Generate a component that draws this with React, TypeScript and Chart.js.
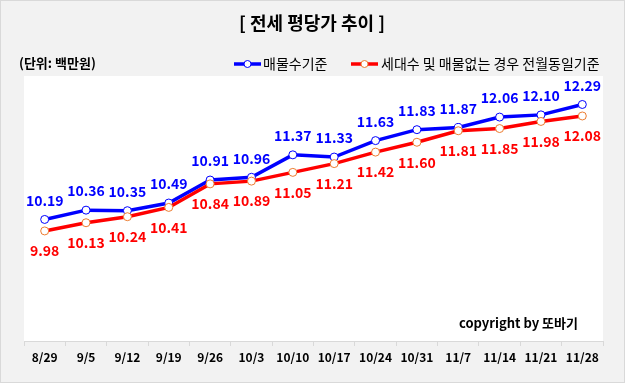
import React, { useEffect, useRef } from "react";
import { Chart, registerables } from "chart.js";

Chart.register(...registerables);

const categories = ["8/29", "9/5", "9/12", "9/19", "9/26", "10/3", "10/10", "10/17", "10/24", "10/31", "11/7", "11/14", "11/21", "11/28"];
const listingBased = [10.19, 10.36, 10.35, 10.49, 10.91, 10.96, 11.37, 11.33, 11.63, 11.83, 11.87, 12.06, 12.10, 12.29];
const sameAsPrevMonth = [9.98, 10.13, 10.24, 10.41, 10.84, 10.89, 11.05, 11.21, 11.42, 11.60, 11.81, 11.85, 11.98, 12.08];
const seriesNames = ["매물수기준", "세대수 및 매물없는 경우 전월동일기준"];
const titleText = "[ 전세 평당가 추이 ]";
const unitText = "(단위: 백만원)";
const copyrightText = "copyright by 또바기";

const FONT = '"Noto Sans CJK KR", "Noto Sans", sans-serif';

const decorPlugin = {
  id: "decor",
  beforeDraw(chart: any) {
    const { ctx, width, height, chartArea } = chart;
    ctx.save();
    ctx.fillStyle = "#f2f2f2";
    ctx.fillRect(0, 0, width, height);
    ctx.strokeStyle = "#d9d9d9";
    ctx.lineWidth = 1;
    ctx.strokeRect(0.5, 0.5, width - 1, height - 1);
    ctx.fillStyle = "#ffffff";
    ctx.fillRect(chartArea.left, chartArea.top, chartArea.right - chartArea.left, chartArea.bottom - chartArea.top + 1);
    ctx.restore();
  },
  afterDraw(chart: any) {
    const { ctx } = chart;
    ctx.save();
    ctx.fillStyle = "#000";
    ctx.textBaseline = "middle";
    ctx.textAlign = "center";
    ctx.font = `bold 18px ${FONT}`;
    ctx.fillText(titleText, 312, 23);
    ctx.textAlign = "left";
    ctx.font = `bold 13px ${FONT}`;
    ctx.fillText(unitText, 19, 63);
    // legend
    const items = [
      { x: 234, tx: 263, color: "#0000ff", mk: "#0000ff", text: seriesNames[0] },
      { x: 351, tx: 381, color: "#ff0000", mk: "#ed7d31", text: seriesNames[1] },
    ];
    ctx.font = `14px ${FONT}`;
    for (const it of items) {
      ctx.strokeStyle = it.color;
      ctx.lineWidth = 3.5;
      ctx.beginPath();
      ctx.moveTo(it.x, 64);
      ctx.lineTo(it.x + 27, 64);
      ctx.stroke();
      ctx.beginPath();
      ctx.arc(it.x + 13.5, 64, 3.5, 0, Math.PI * 2);
      ctx.fillStyle = "#fff";
      ctx.fill();
      ctx.lineWidth = 1;
      ctx.strokeStyle = it.mk;
      ctx.stroke();
      ctx.fillStyle = "#000";
      ctx.fillText(it.text, it.tx, 64);
    }
    ctx.font = `bold 13px ${FONT}`;
    ctx.textAlign = "right";
    ctx.fillText(copyrightText, 578, 323);

    // data labels
    ctx.font = `bold 14px ${FONT}`;
    ctx.textAlign = "center";
    chart.data.datasets.forEach((ds: any, i: number) => {
      const meta = chart.getDatasetMeta(i);
      meta.data.forEach((pt: any, j: number) => {
        const v = ds.data[j];
        ctx.fillStyle = ds.labelColor;
        const dy = ds.labelAbove ? -19 : 20;
        ctx.fillText(v.toFixed(2), pt.x, pt.y + dy);
      });
    });
    ctx.restore();
  },
};

export default function App() {
  const ref = useRef<HTMLCanvasElement>(null);
  useEffect(() => {
    const chart = new Chart(ref.current!, {
      type: "line",
      data: {
        labels: categories,
        datasets: [
          {
            label: seriesNames[0],
            data: listingBased,
            borderColor: "#0000ff",
            borderWidth: 3.5,
            pointRadius: 4,
            pointBorderWidth: 1,
            pointBackgroundColor: "#ffffff",
            pointBorderColor: "#0000ff",
            tension: 0,
            labelColor: "#0000ff",
            labelAbove: true,
            order: 1,
          } as any,
          {
            label: seriesNames[1],
            data: sameAsPrevMonth,
            borderColor: "#ff0000",
            borderWidth: 3.5,
            pointRadius: 4,
            pointBorderWidth: 1,
            pointBackgroundColor: "#ffffff",
            pointBorderColor: "#ed7d31",
            tension: 0,
            labelColor: "#ff0000",
            labelAbove: false,
            order: 0,
          } as any,
        ],
      },
      options: {
        animation: false,
        responsive: false,
        layout: { padding: { top: 76, left: 24, right: 22, bottom: 0 } },
        plugins: { legend: { display: false }, tooltip: { enabled: false }, title: { display: false } },
        scales: {
          x: {
            offset: true,
            grid: { offset: true, drawOnChartArea: false, color: "#d9d9d9", tickLength: 5 },
            border: { color: "#d9d9d9" },
            ticks: { color: "#000", font: { family: FONT, size: 12, weight: "bold" }, padding: 4, maxRotation: 0, autoSkip: false },
            afterFit: (scale: any) => { scale.height = 42; },
          },
          y: { display: false, min: 7.97, max: 12.81 },
        },
      },
      plugins: [decorPlugin],
    });
    return () => chart.destroy();
  }, []);
  return (
    <div style={{ position: "fixed", left: 0, top: 0, width: 625, height: 383 }}>
      <canvas ref={ref} width={625} height={383} style={{ width: 625, height: 383 }} />
    </div>
  );
}
